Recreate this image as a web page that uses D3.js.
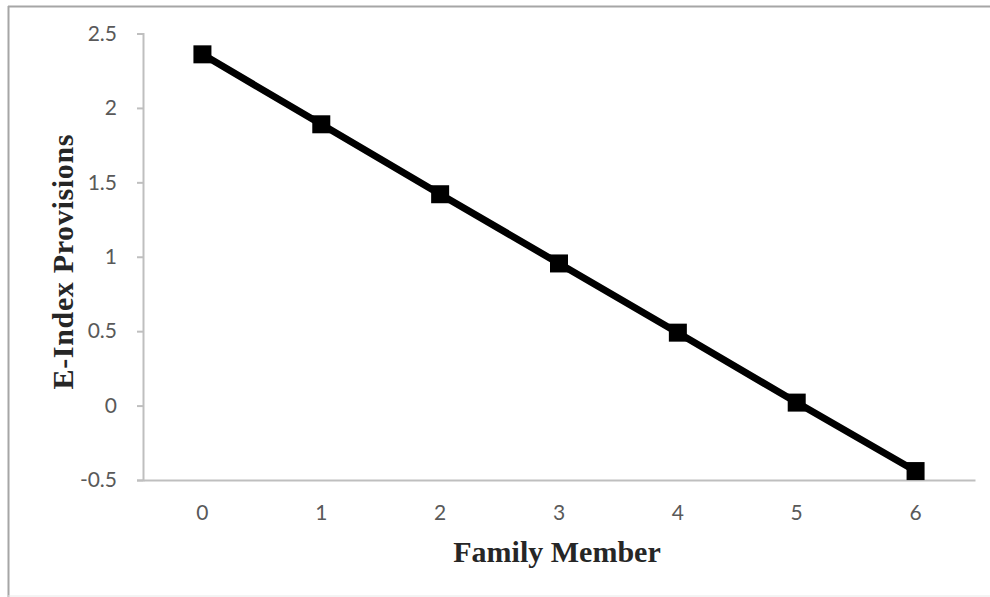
<!DOCTYPE html>
<html><head><meta charset="utf-8">
<script src="https://cdn.jsdelivr.net/npm/d3@7"></script>
<style>body{margin:0;background:#fff}svg{display:block}</style>
</head><body>
<svg id="c" width="990" height="597"></svg>
<script>
const categories = ["0","1","2","3","4","5","6"];
const values = [2.36, 1.89, 1.42, 0.955, 0.49, 0.02, -0.44];
const yTicks = [-0.5, 0, 0.5, 1, 1.5, 2, 2.5];
const yTickLabels = ["-0.5","0","0.5","1","1.5","2","2.5"];
const xTitle = "Family Member";
const yTitle = "E-Index Provisions";

const svg = d3.select("#c");
// outer frame
svg.append("line").attr("x1",8).attr("x2",990).attr("y1",6.5).attr("y2",6.5).attr("stroke","#a6a6a6").attr("stroke-width",2);
svg.append("line").attr("x1",8.5).attr("x2",8.5).attr("y1",6).attr("y2",597).attr("stroke","#a6a6a6").attr("stroke-width",2);
svg.append("line").attr("x1",8).attr("x2",990).attr("y1",596).attr("y2",596).attr("stroke","#e8e8e8").attr("stroke-width",1);

const L=143, R=975, T=33.5, B=480;
const x = d3.scaleBand().domain(categories).range([L,R]);
const y = d3.scaleLinear().domain([-0.5,2.5]).range([B,T]);

const font = "Lato, 'Open Sans', sans-serif";
// y axis
const ya = svg.append("g").attr("transform",`translate(${L},0)`)
  .call(d3.axisLeft(y).tickValues(yTicks).tickFormat((d,i)=>yTickLabels[i]).tickSize(6).tickPadding(20));
ya.select(".domain").attr("stroke","#bfbfbf").attr("stroke-width",2);
ya.selectAll(".tick line").attr("stroke","#bfbfbf").attr("stroke-width",2);
ya.selectAll(".tick text").attr("fill","#595959").style("font-family",font).style("font-size","21px");

// x axis
const xa = svg.append("g").attr("transform",`translate(0,${B})`)
  .call(d3.axisBottom(x).tickSize(0).tickPadding(25));
xa.select(".domain").attr("stroke","#bfbfbf").attr("stroke-width",2);
xa.selectAll(".tick text").attr("fill","#595959").style("font-family",font).style("font-size","21px");

const cx = d => x(d)+x.bandwidth()/2;
const line = d3.line().x((d,i)=>cx(categories[i])).y(d=>y(d));
svg.append("path").datum(values).attr("d",line).attr("fill","none").attr("stroke","#000").attr("stroke-width",7);
const s=18;
svg.selectAll("rect.m").data(values).enter().append("rect").attr("class","m")
  .attr("x",(d,i)=>cx(categories[i])-s/2).attr("y",d=>y(d)-s/2).attr("width",s).attr("height",s).attr("fill","#000");

svg.append("text").attr("x",557).attr("y",562).attr("text-anchor","middle")
  .style("font-family","'Liberation Serif', serif").style("font-weight","bold").style("font-size","30px")
  .attr("fill","#262626").text(xTitle);
svg.append("text").attr("transform",`translate(73,262) rotate(-90)`).attr("text-anchor","middle")
  .style("font-family","'Liberation Serif', serif").style("font-weight","bold").style("font-size","30px")
  .attr("textLength",255).attr("lengthAdjust","spacing")
  .attr("fill","#262626").text(yTitle);
</script>
</body></html>
